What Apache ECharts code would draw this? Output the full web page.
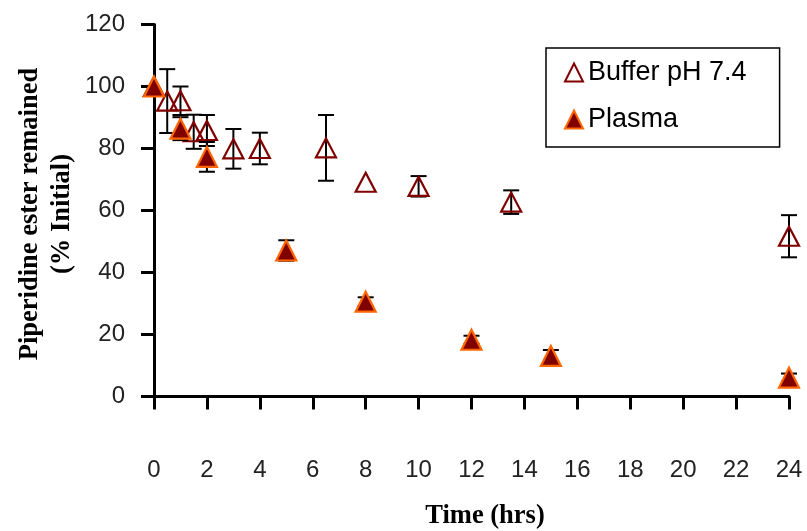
<!DOCTYPE html>
<html>
<head>
<meta charset="utf-8">
<script src="https://cdn.jsdelivr.net/npm/echarts@6/dist/echarts.min.js"></script>
<style>
  html, body { margin: 0; padding: 0; background: #fff; }
  #chart { width: 807px; height: 531px; }
</style>
</head>
<body>
<div id="chart"></div>
<script>
// Piperidine ester stability: % of initial remaining over time
const bufferTime = [0, 0.5, 1, 1.5, 2, 3, 4, 6.5, 8, 10, 13.5, 24];
const bufferValue = [100, 95.3, 95.4, 85.4, 85.8, 79.9, 80.0, 80.2, 69.1, 67.8, 62.7, 51.7];
const bufferErr = [0, 10.3, 4.6, 5.5, 5.0, 6.4, 5.1, 10.6, 0, 3.3, 3.8, 6.8];

const plasmaTime = [0, 1, 2, 5, 8, 12, 15, 24];
const plasmaValue = [100, 86.4, 77.3, 47.1, 30.6, 18.3, 13.1, 6.1];
const plasmaErr = [0, 3.7, 4.8, 3.3, 1.4, 1.3, 1.9, 1.3];

const xTicks = [0, 2, 4, 6, 8, 10, 12, 14, 16, 18, 20, 22, 24];
const yTicks = [0, 20, 40, 60, 80, 100, 120];

const seriesNames = ['Buffer pH 7.4', 'Plasma'];
const xTitle = 'Time (hrs)';
const yTitleLines = ['Piperidine ester remained', '(% Initial)'];

const pairs = (xs, ys) => xs.map((x, i) => [x, ys[i]]);
const triples = (xs, ys, es) => xs.map((x, i) => [x, ys[i], es[i]]);

// vertical error bar with caps, positioned through the axes
function renderErrorBar(params, api) {
  const x = api.value(0), y = api.value(1), e = api.value(2);
  if (!e) return null;
  const top = api.coord([x, y + e]);
  const bot = api.coord([x, y - e]);
  const hw = 8;
  const style = { stroke: '#000', lineWidth: 2 };
  return {
    type: 'group',
    children: [
      { type: 'line', shape: { x1: top[0], y1: top[1], x2: bot[0], y2: bot[1] }, style },
      { type: 'line', shape: { x1: top[0] - hw, y1: top[1], x2: top[0] + hw, y2: top[1] }, style },
      { type: 'line', shape: { x1: bot[0] - hw, y1: bot[1], x2: bot[0] + hw, y2: bot[1] }, style }
    ]
  };
}

const axisLineStyle = { color: '#000', width: 3 };
const serif = '"Liberation Serif", "Times New Roman", serif';
const sans = '"Liberation Sans", Arial, sans-serif';
const titleFont = 'bold 26.5px ' + serif;

const chart = echarts.init(document.getElementById('chart'));
chart.setOption({
  animation: false,
  backgroundColor: '#fff',
  grid: { left: 154, right: 18, top: 24.5, bottom: 134.5, containLabel: false },
  xAxis: {
    type: 'value',
    min: xTicks[0],
    max: xTicks[xTicks.length - 1],
    interval: 2,
    axisLine: { show: true, onZero: false, lineStyle: axisLineStyle },
    axisTick: { show: true, inside: false, length: 13, lineStyle: axisLineStyle },
    axisLabel: { margin: 62, fontSize: 24, fontFamily: sans, color: '#222' },
    splitLine: { show: false }
  },
  yAxis: {
    type: 'value',
    min: yTicks[0],
    max: yTicks[yTicks.length - 1],
    interval: 20,
    axisLine: { show: true, onZero: false, lineStyle: axisLineStyle },
    axisTick: { show: true, inside: false, length: 13, lineStyle: axisLineStyle },
    axisLabel: { margin: 29, fontSize: 24, fontFamily: sans, color: '#222' },
    splitLine: { show: false }
  },
  legend: {
    data: seriesNames,
    orient: 'vertical',
    left: 546,
    top: 48,
    padding: [11, 33, 14, 18],
    itemGap: 20,
    itemWidth: 18,
    itemHeight: 18,
    borderColor: '#000',
    borderWidth: 1.5,
    backgroundColor: '#fff',
    textStyle: { fontSize: 27, fontFamily: sans, color: '#000' }
  },
  graphic: [
    {
      type: 'text',
      x: 485, y: 516,
      style: {
        text: xTitle,
        align: 'center', verticalAlign: 'middle',
        font: titleFont,
        fill: '#000'
      }
    },
    {
      type: 'text',
      x: 30, y: 214,
      rotation: Math.PI / 2,
      style: {
        text: yTitleLines[0],
        align: 'center', verticalAlign: 'middle',
        font: titleFont,
        fill: '#000'
      }
    },
    {
      type: 'text',
      x: 62, y: 214,
      rotation: Math.PI / 2,
      style: {
        text: yTitleLines[1],
        align: 'center', verticalAlign: 'middle',
        font: titleFont,
        fill: '#000'
      }
    }
  ],
  series: [
    {
      name: 'bufferErr',
      type: 'custom',
      renderItem: renderErrorBar,
      encode: { x: 0, y: 1 },
      data: triples(bufferTime, bufferValue, bufferErr),
      z: 1,
      silent: true
    },
    {
      name: seriesNames[0],
      type: 'scatter',
      symbol: 'triangle',
      symbolSize: [20, 19],
      data: pairs(bufferTime, bufferValue),
      itemStyle: { color: 'rgba(255,255,255,0)', borderColor: '#800000', borderWidth: 2.2, opacity: 1 },
      z: 2
    },
    {
      name: 'plasmaErr',
      type: 'custom',
      renderItem: renderErrorBar,
      encode: { x: 0, y: 1 },
      data: triples(plasmaTime, plasmaValue, plasmaErr),
      z: 3,
      silent: true
    },
    {
      name: seriesNames[1],
      type: 'scatter',
      symbol: 'triangle',
      symbolSize: [20, 20],
      data: pairs(plasmaTime, plasmaValue),
      itemStyle: { color: '#800000', borderColor: '#FF6600', borderWidth: 2.2, opacity: 1 },
      z: 4
    }
  ]
});
</script>
</body>
</html>
